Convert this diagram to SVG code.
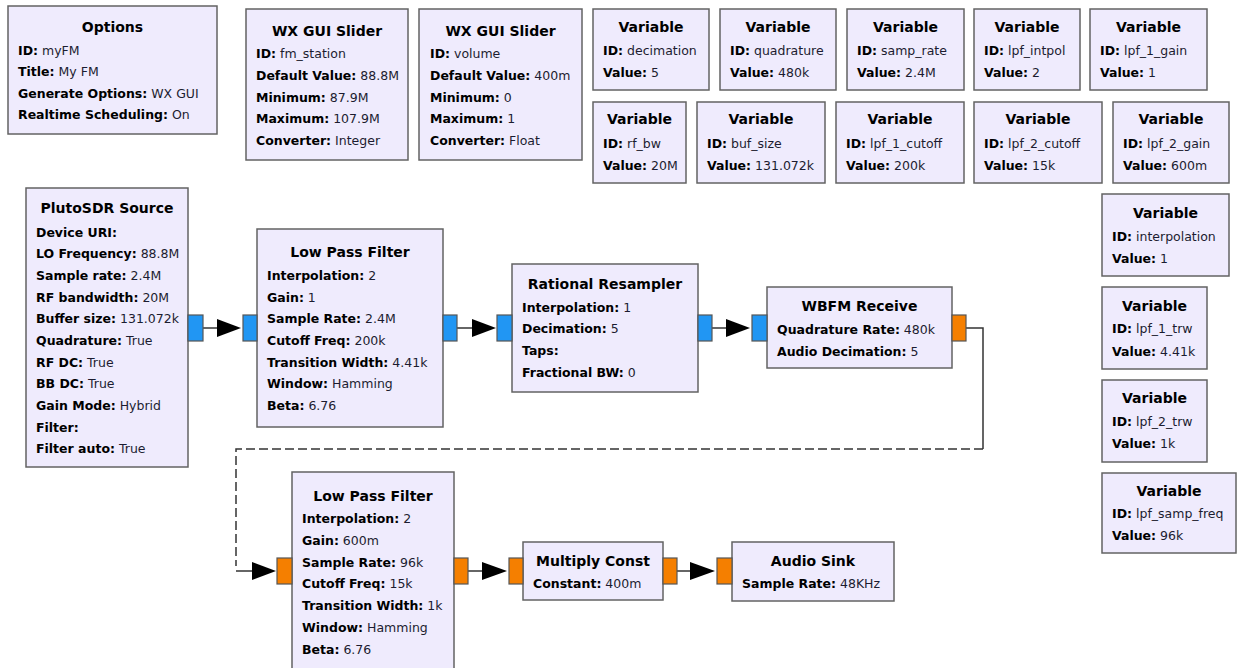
<svg xmlns="http://www.w3.org/2000/svg" width="1238" height="668" viewBox="0 0 1238 668">
<style>
.bg{fill:#ffffff}
.box{fill:#EFEBFD;stroke:#636363;stroke-width:1.5}
.t{font-family:"DejaVu Sans",Tahoma,sans-serif;font-weight:bold;font-size:14px;text-anchor:middle;fill:#000}
.p{font-family:"DejaVu Sans",Tahoma,sans-serif;font-size:12.5px;fill:#1c1c30}
.k{font-weight:bold;fill:#000}
.pb{fill:#2196F3;stroke:#555;stroke-width:1.2}
.po{fill:#F57F00;stroke:#555;stroke-width:1.2}
.ln{stroke:#333;stroke-width:1.5;fill:none}
.dash{stroke-dasharray:9 4}
.ah{fill:#000}
</style>
<rect class="bg" x="0" y="0" width="1238" height="668"/>

<g id="options">
<rect class="box" x="8" y="6" width="209" height="128"/>
<text class="t" x="112.5" y="32">Options</text>
<text class="p" x="18" y="54.5"><tspan class="k">ID:</tspan> myFM</text>
<text class="p" x="18" y="76"><tspan class="k">Title:</tspan> My FM</text>
<text class="p" x="18" y="97.5"><tspan class="k">Generate Options:</tspan> WX GUI</text>
<text class="p" x="18" y="119"><tspan class="k">Realtime Scheduling:</tspan> On</text>
</g>

<g id="slider_fm_station">
<rect class="box" x="246" y="9" width="162" height="151"/>
<text class="t" x="327" y="36">WX GUI Slider</text>
<text class="p" x="256" y="57.5"><tspan class="k">ID:</tspan> fm_station</text>
<text class="p" x="256" y="79.5"><tspan class="k">Default Value:</tspan> 88.8M</text>
<text class="p" x="256" y="101.5"><tspan class="k">Minimum:</tspan> 87.9M</text>
<text class="p" x="256" y="123"><tspan class="k">Maximum:</tspan> 107.9M</text>
<text class="p" x="256" y="144.5"><tspan class="k">Converter:</tspan> Integer</text>
</g>

<g id="slider_volume">
<rect class="box" x="419" y="9" width="163" height="151"/>
<text class="t" x="500.5" y="36">WX GUI Slider</text>
<text class="p" x="430" y="57.5"><tspan class="k">ID:</tspan> volume</text>
<text class="p" x="430" y="79.5"><tspan class="k">Default Value:</tspan> 400m</text>
<text class="p" x="430" y="101.5"><tspan class="k">Minimum:</tspan> 0</text>
<text class="p" x="430" y="123"><tspan class="k">Maximum:</tspan> 1</text>
<text class="p" x="430" y="144.5"><tspan class="k">Converter:</tspan> Float</text>
</g>

<g id="var_decimation">
<rect class="box" x="593" y="9" width="116" height="81"/>
<text class="t" x="651" y="32">Variable</text>
<text class="p" x="603" y="54.5"><tspan class="k">ID:</tspan> decimation</text>
<text class="p" x="603" y="76.5"><tspan class="k">Value:</tspan> 5</text>
</g>
<g id="var_quadrature">
<rect class="box" x="720" y="9" width="116" height="81"/>
<text class="t" x="778" y="32">Variable</text>
<text class="p" x="730" y="54.5"><tspan class="k">ID:</tspan> quadrature</text>
<text class="p" x="730" y="76.5"><tspan class="k">Value:</tspan> 480k</text>
</g>
<g id="var_samp_rate">
<rect class="box" x="847" y="9" width="117" height="81"/>
<text class="t" x="905.5" y="32">Variable</text>
<text class="p" x="857" y="54.5"><tspan class="k">ID:</tspan> samp_rate</text>
<text class="p" x="857" y="76.5"><tspan class="k">Value:</tspan> 2.4M</text>
</g>
<g id="var_lpf_intpol">
<rect class="box" x="974" y="9" width="106" height="81"/>
<text class="t" x="1027" y="32">Variable</text>
<text class="p" x="984" y="54.5"><tspan class="k">ID:</tspan> lpf_intpol</text>
<text class="p" x="984" y="76.5"><tspan class="k">Value:</tspan> 2</text>
</g>
<g id="var_lpf_1_gain">
<rect class="box" x="1090" y="9" width="117" height="81"/>
<text class="t" x="1148.5" y="32">Variable</text>
<text class="p" x="1100" y="54.5"><tspan class="k">ID:</tspan> lpf_1_gain</text>
<text class="p" x="1100" y="76.5"><tspan class="k">Value:</tspan> 1</text>
</g>

<g id="var_rf_bw">
<rect class="box" x="593" y="102" width="93" height="81"/>
<text class="t" x="639.5" y="124">Variable</text>
<text class="p" x="603" y="147.5"><tspan class="k">ID:</tspan> rf_bw</text>
<text class="p" x="603" y="169.5"><tspan class="k">Value:</tspan> 20M</text>
</g>
<g id="var_buf_size">
<rect class="box" x="697" y="102" width="128" height="81"/>
<text class="t" x="761" y="124">Variable</text>
<text class="p" x="707" y="147.5"><tspan class="k">ID:</tspan> buf_size</text>
<text class="p" x="707" y="169.5"><tspan class="k">Value:</tspan> 131.072k</text>
</g>
<g id="var_lpf_1_cutoff">
<rect class="box" x="836" y="102" width="128" height="81"/>
<text class="t" x="900" y="124">Variable</text>
<text class="p" x="846" y="147.5"><tspan class="k">ID:</tspan> lpf_1_cutoff</text>
<text class="p" x="846" y="169.5"><tspan class="k">Value:</tspan> 200k</text>
</g>
<g id="var_lpf_2_cutoff">
<rect class="box" x="974" y="102" width="128" height="81"/>
<text class="t" x="1038" y="124">Variable</text>
<text class="p" x="984" y="147.5"><tspan class="k">ID:</tspan> lpf_2_cutoff</text>
<text class="p" x="984" y="169.5"><tspan class="k">Value:</tspan> 15k</text>
</g>
<g id="var_lpf_2_gain">
<rect class="box" x="1113" y="102" width="116" height="81"/>
<text class="t" x="1171" y="124">Variable</text>
<text class="p" x="1123" y="147.5"><tspan class="k">ID:</tspan> lpf_2_gain</text>
<text class="p" x="1123" y="169.5"><tspan class="k">Value:</tspan> 600m</text>
</g>

<g id="var_interpolation">
<rect class="box" x="1102" y="194" width="127" height="82"/>
<text class="t" x="1165.5" y="218">Variable</text>
<text class="p" x="1112" y="240.5"><tspan class="k">ID:</tspan> interpolation</text>
<text class="p" x="1112" y="262.5"><tspan class="k">Value:</tspan> 1</text>
</g>
<g id="var_lpf_1_trw">
<rect class="box" x="1102" y="287" width="105" height="82"/>
<text class="t" x="1154.5" y="311">Variable</text>
<text class="p" x="1112" y="333"><tspan class="k">ID:</tspan> lpf_1_trw</text>
<text class="p" x="1112" y="355.5"><tspan class="k">Value:</tspan> 4.41k</text>
</g>
<g id="var_lpf_2_trw">
<rect class="box" x="1102" y="380" width="105" height="82"/>
<text class="t" x="1154.5" y="402.5">Variable</text>
<text class="p" x="1112" y="425.5"><tspan class="k">ID:</tspan> lpf_2_trw</text>
<text class="p" x="1112" y="447.5"><tspan class="k">Value:</tspan> 1k</text>
</g>
<g id="var_lpf_samp_freq">
<rect class="box" x="1102" y="473" width="134" height="80"/>
<text class="t" x="1169" y="495.5">Variable</text>
<text class="p" x="1112" y="517.5"><tspan class="k">ID:</tspan> lpf_samp_freq</text>
<text class="p" x="1112" y="539.5"><tspan class="k">Value:</tspan> 96k</text>
</g>

<g id="connectors">
<path class="ln" d="M203 328H218"/>
<polygon class="ah" points="217,319 241,328 217,337"/>
<path class="ln" d="M457 328H473"/>
<polygon class="ah" points="472,319 496,328 472,337"/>
<path class="ln" d="M712 328H727"/>
<polygon class="ah" points="726,319 750,328 726,337"/>
<path class="ln" d="M966 328H983V449"/>
<path class="ln dash" d="M983 449H236V566"/>
<path class="ln" d="M236 571H253"/>
<polygon class="ah" points="252,562 276,571 252,580"/>
<path class="ln" d="M468 571H483"/>
<polygon class="ah" points="482,562 507,571 482,580"/>
<path class="ln" d="M677 571H691"/>
<polygon class="ah" points="690,562 715,571 690,580"/>
</g>

<g id="plutosdr_source">
<rect class="box" x="26" y="188" width="162" height="279"/>
<text class="t" x="107" y="213">PlutoSDR Source</text>
<text class="p" x="36" y="236.5"><tspan class="k">Device URI:</tspan></text>
<text class="p" x="36" y="258"><tspan class="k">LO Frequency:</tspan> 88.8M</text>
<text class="p" x="36" y="279.5"><tspan class="k">Sample rate:</tspan> 2.4M</text>
<text class="p" x="36" y="301.5"><tspan class="k">RF bandwidth:</tspan> 20M</text>
<text class="p" x="36" y="323"><tspan class="k">Buffer size:</tspan> 131.072k</text>
<text class="p" x="36" y="344.5"><tspan class="k">Quadrature:</tspan> True</text>
<text class="p" x="36" y="366.5"><tspan class="k">RF DC:</tspan> True</text>
<text class="p" x="36" y="388"><tspan class="k">BB DC:</tspan> True</text>
<text class="p" x="36" y="409.5"><tspan class="k">Gain Mode:</tspan> Hybrid</text>
<text class="p" x="36" y="431.5"><tspan class="k">Filter:</tspan></text>
<text class="p" x="36" y="453"><tspan class="k">Filter auto:</tspan> True</text>
<rect class="pb" x="188" y="315" width="15" height="26"/>
</g>

<g id="low_pass_filter_1">
<rect class="box" x="257" y="229" width="186" height="198"/>
<text class="t" x="350" y="256.5">Low Pass Filter</text>
<text class="p" x="267" y="279.5"><tspan class="k">Interpolation:</tspan> 2</text>
<text class="p" x="267" y="301.5"><tspan class="k">Gain:</tspan> 1</text>
<text class="p" x="267" y="323"><tspan class="k">Sample Rate:</tspan> 2.4M</text>
<text class="p" x="267" y="344.5"><tspan class="k">Cutoff Freq:</tspan> 200k</text>
<text class="p" x="267" y="366.5"><tspan class="k">Transition Width:</tspan> 4.41k</text>
<text class="p" x="267" y="388"><tspan class="k">Window:</tspan> Hamming</text>
<text class="p" x="267" y="409.5"><tspan class="k">Beta:</tspan> 6.76</text>
<rect class="pb" x="243" y="315" width="14" height="26"/>
<rect class="pb" x="443" y="315" width="14" height="26"/>
</g>

<g id="rational_resampler">
<rect class="box" x="512" y="264" width="186" height="128"/>
<text class="t" x="605" y="288.5">Rational Resampler</text>
<text class="p" x="522" y="311.5"><tspan class="k">Interpolation:</tspan> 1</text>
<text class="p" x="522" y="333"><tspan class="k">Decimation:</tspan> 5</text>
<text class="p" x="522" y="355"><tspan class="k">Taps:</tspan></text>
<text class="p" x="522" y="376.5"><tspan class="k">Fractional BW:</tspan> 0</text>
<rect class="pb" x="497" y="315" width="15" height="26"/>
<rect class="pb" x="698" y="315" width="14" height="26"/>
</g>

<g id="wbfm_receive">
<rect class="box" x="767" y="287" width="185" height="81"/>
<text class="t" x="859.5" y="310.5">WBFM Receive</text>
<text class="p" x="777" y="333.5"><tspan class="k">Quadrature Rate:</tspan> 480k</text>
<text class="p" x="777" y="355.5"><tspan class="k">Audio Decimation:</tspan> 5</text>
<rect class="pb" x="752" y="315" width="15" height="26"/>
<rect class="po" x="952" y="315" width="14" height="26"/>
</g>

<g id="low_pass_filter_2">
<rect class="box" x="292" y="472" width="162" height="200"/>
<text class="t" x="373" y="500.5">Low Pass Filter</text>
<text class="p" x="302" y="522.5"><tspan class="k">Interpolation:</tspan> 2</text>
<text class="p" x="302" y="544.5"><tspan class="k">Gain:</tspan> 600m</text>
<text class="p" x="302" y="566.5"><tspan class="k">Sample Rate:</tspan> 96k</text>
<text class="p" x="302" y="587.5"><tspan class="k">Cutoff Freq:</tspan> 15k</text>
<text class="p" x="302" y="609.5"><tspan class="k">Transition Width:</tspan> 1k</text>
<text class="p" x="302" y="631.5"><tspan class="k">Window:</tspan> Hamming</text>
<text class="p" x="302" y="653.5"><tspan class="k">Beta:</tspan> 6.76</text>
<rect class="po" x="277" y="558" width="15" height="26"/>
<rect class="po" x="454" y="558" width="14" height="26"/>
</g>

<g id="multiply_const">
<rect class="box" x="523" y="542" width="140" height="58"/>
<text class="t" x="593" y="565.5">Multiply Const</text>
<text class="p" x="533" y="587.5"><tspan class="k">Constant:</tspan> 400m</text>
<rect class="po" x="509" y="558" width="14" height="26"/>
<rect class="po" x="663" y="558" width="14" height="26"/>
</g>

<g id="audio_sink">
<rect class="box" x="732" y="542" width="162" height="59"/>
<text class="t" x="813" y="565.5">Audio Sink</text>
<text class="p" x="742" y="587.5"><tspan class="k">Sample Rate:</tspan> 48KHz</text>
<rect class="po" x="717" y="558" width="15" height="26"/>
</g>
</svg>
